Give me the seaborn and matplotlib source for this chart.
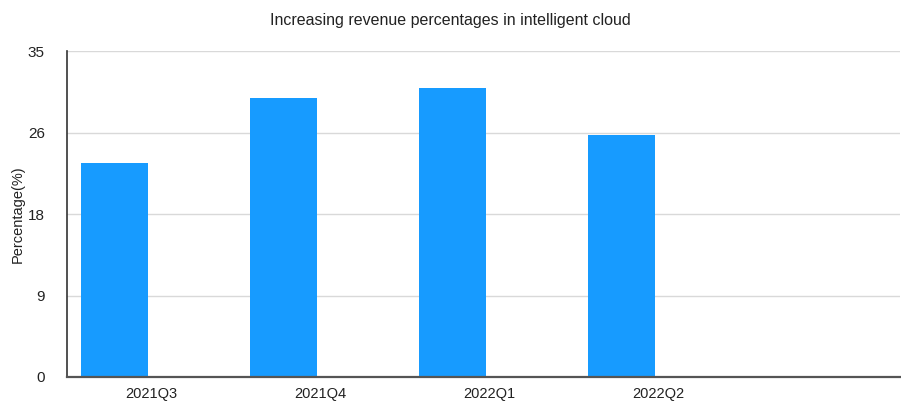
import matplotlib
matplotlib.use("Agg")
import matplotlib.pyplot as plt
import seaborn as sns
import numpy as np
import pandas as pd

categories = ["2021Q3", "2021Q4", "2022Q1", "2022Q2"]
values = [23, 30, 31, 26]
ytick_values = [0, 8.75, 17.5, 26.25, 35]
ytick_labels = ["0", "9", "18", "26", "35"]

sns.set_theme(style="white")
plt.rcParams["font.family"] = ["Liberation Sans", "DejaVu Sans"]

df = pd.DataFrame({"quarter": categories, "pct": values})

fig = plt.figure(figsize=(9.01, 4.01), dpi=100)
ax = fig.add_axes([67 / 901, 24 / 401, 833 / 901, 326 / 401])

sns.barplot(data=df, x="quarter", y="pct", color="#179BFF", width=0.396,
            saturation=1, linewidth=0, edgecolor="none", ax=ax, zorder=3)

offset = 0.219
pos = np.arange(len(categories))
ax.set_xticks(pos + offset)
ax.set_xticklabels(categories, fontsize=10.5, color="#222222")
ax.set_xlim(offset - 0.5, offset - 0.5 + 833 / 169)

ax.set_ylim(0, 35)
ax.set_yticks(ytick_values)
ax.set_yticklabels(ytick_labels, fontsize=11, color="#222222")
ax.yaxis.grid(True, color="#d9d9d9", linewidth=1, zorder=0)
ax.set_axisbelow(True)

ax.tick_params(axis="both", length=0)
ax.tick_params(axis="y", pad=16)
ax.tick_params(axis="x", pad=7)

ax.set_xlabel("")
ax.set_ylabel("Percentage(%)", fontsize=10.5, color="#222222", labelpad=2)

for s in ["top", "right"]:
    ax.spines[s].set_visible(False)
ax.spines["left"].set_color("#333333")
ax.spines["left"].set_linewidth(1.2)
ax.spines["bottom"].set_color("#555555")
ax.spines["bottom"].set_linewidth(1.6)
ax.spines["bottom"].set_zorder(4)

fig.text(0.5, 1 - 21 / 401, "Increasing revenue percentages in intelligent cloud",
         ha="center", va="center", fontsize=11.5, color="#222222")

fig.savefig("out.png", dpi=100)
